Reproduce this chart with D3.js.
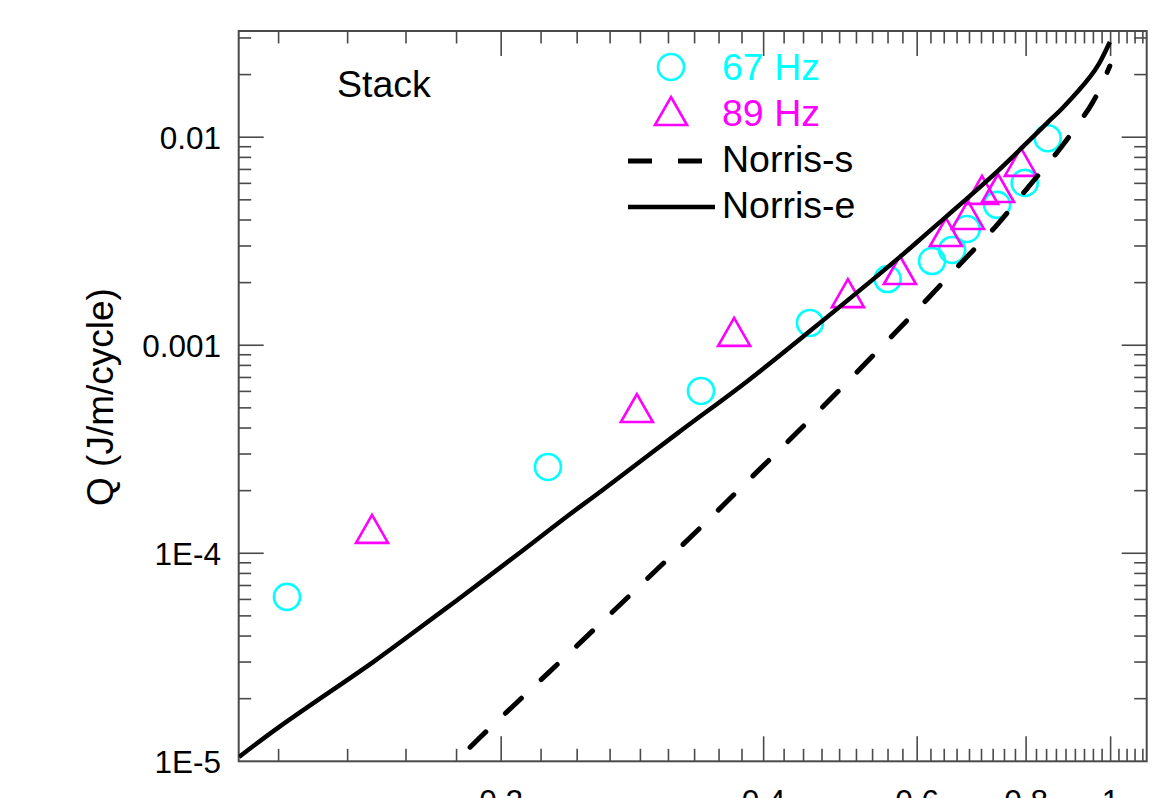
<!DOCTYPE html>
<html>
<head>
<meta charset="utf-8">
<script src="https://cdn.jsdelivr.net/npm/d3@7"></script>
<style>
  html, body { margin: 0; padding: 0; background: #fff; overflow: hidden; }
  svg { display: block; font-family: "Liberation Sans", Arial, sans-serif; }
</style>
</head>
<body>
<div id="chart"></div>
<script>
// measured data (normalised current F = Im/Ic vs loss per cycle)
const f67 = [0.1136, 0.2263, 0.339, 0.452, 0.555, 0.624, 0.658, 0.684, 0.741, 0.797, 0.847]
const q67 = [6.17e-5, 2.60e-4, 6.03e-4, 1.28e-3, 2.08e-3, 2.54e-3, 2.87e-3, 3.62e-3, 4.73e-3, 6.03e-3, 9.89e-3]

const f89 = [0.1422, 0.2862, 0.370, 0.4997, 0.5733, 0.6474, 0.686, 0.712, 0.7428, 0.789]
const q89 = [1.31e-4, 4.99e-4, 1.16e-3, 1.78e-3, 2.30e-3, 3.50e-3, 4.23e-3, 5.58e-3, 5.70e-3, 7.61e-3]

// Norris elliptical (solid) and strip (dashed) curves
const normEF = [0.1001, 0.1112, 0.1426, 0.1543, 0.1775, 0.2097, 0.2373, 0.2617, 0.3182, 0.3828, 0.452, 0.5733, 0.6157, 0.733, 0.808, 0.8453, 0.882, 0.947, 0.97, 0.998]
const normEQ = [1.05e-5, 1.46e-5, 3.0e-5, 3.82e-5, 5.9e-5, 1.0e-4, 1.49e-4, 2.02e-4, 3.76e-4, 6.7e-4, 1.17e-3, 2.66e-3, 3.45e-3, 6.55e-3, 9.7e-3, 1.17e-2, 1.39e-2, 1.95e-2, 2.26e-2, 2.87e-2]

const normSF = [0.1775, 0.1887, 0.2373, 0.3354, 0.3858, 0.4641, 0.5629, 0.6157, 0.6717, 0.741, 0.8017, 0.8748, 0.947, 0.97, 0.998]
const normSQ = [1.0e-5, 1.29e-5, 3.2e-5, 1.28e-4, 2.28e-4, 4.9e-4, 1.12e-3, 1.66e-3, 2.45e-3, 3.79e-3, 5.65e-3, 8.8e-3, 1.40e-2, 1.68e-2, 2.2e-2]

const xMajor = [0.2, 0.4, 0.6, 0.8, 1]
const xMajorLabels = ['0.2', '0.4', '0.6', '0.8', '1']
const yMajor = [1e-5, 1e-4, 1e-3, 1e-2]
const yMajorLabels = ['1E-5', '1E-4', '0.001', '0.01']

const legendItems = ['67 Hz', '89 Hz', 'Norris-s', 'Norris-e']
const annotation = 'Stack'
const yTitle = 'Q (J/m/cycle)'

const W = 1173, H = 798
const plot = { left: 238.7, right: 1146.7, top: 31, bottom: 761.3 }
const axisColor = '#4a4a4a'
const cyan = '#00ffff', magenta = '#ff00ff'

const x = d3.scaleLog().domain([0.1, 1.1]).range([plot.left, plot.right])
const y = d3.scaleLog().domain([1e-5, 0.0324]).range([plot.bottom, plot.top])

const svg = d3.select('#chart').append('svg')
  .attr('width', W).attr('height', H)

svg.append('defs').append('clipPath').attr('id', 'plot-clip')
  .append('rect')
  .attr('x', plot.left).attr('y', plot.top)
  .attr('width', plot.right - plot.left).attr('height', plot.bottom - plot.top)

// minor ticks: x every 0.2/9, y at 2..9 per decade
const xMinor = d3.range(5, 50).filter(k => k % 9 !== 0).map(k => k * 0.2 / 9)
  .filter(v => v > 0.1 && v < 1.1)
const yMinor = []
yMajor.forEach(d => { for (let m = 2; m <= 9; m++) { const v = d * m; if (v < 0.0324) yMinor.push(v) } })

const MAJ = 25, MIN = 12.5
const ticks = svg.append('g').attr('stroke', axisColor).attr('stroke-width', 1.6)

function xTicks (vals, len) {
  ticks.selectAll(null).data(vals).join('line')
    .attr('x1', d => x(d)).attr('x2', d => x(d))
    .attr('y1', plot.bottom).attr('y2', plot.bottom - len)
  ticks.selectAll(null).data(vals).join('line')
    .attr('x1', d => x(d)).attr('x2', d => x(d))
    .attr('y1', plot.top).attr('y2', plot.top + len)
}
function yTicks (vals, len) {
  ticks.selectAll(null).data(vals).join('line')
    .attr('y1', d => y(d)).attr('y2', d => y(d))
    .attr('x1', plot.left).attr('x2', plot.left + len)
  ticks.selectAll(null).data(vals).join('line')
    .attr('y1', d => y(d)).attr('y2', d => y(d))
    .attr('x1', plot.right).attr('x2', plot.right - len)
}
xTicks(xMinor, MIN)
xTicks(xMajor, MAJ)
yTicks(yMinor, MIN)
yTicks(yMajor.filter(d => d > 1e-5), MAJ)

svg.append('rect')
  .attr('x', plot.left).attr('y', plot.top)
  .attr('width', plot.right - plot.left).attr('height', plot.bottom - plot.top)
  .attr('fill', 'none').attr('stroke', axisColor).attr('stroke-width', 2)

// tick labels
svg.append('g').selectAll('text').data(yMajor).join('text')
  .attr('x', 221).attr('y', d => y(d)).attr('dy', '0.36em')
  .attr('text-anchor', 'end').attr('font-size', 31.5).attr('fill', '#000')
  .text((d, i) => yMajorLabels[i])

svg.append('g').selectAll('text').data(xMajor).join('text')
  .attr('x', d => x(d)).attr('y', 812)
  .attr('text-anchor', 'middle').attr('font-size', 31.5).attr('fill', '#000')
  .text((d, i) => xMajorLabels[i])

svg.append('text')
  .attr('transform', `translate(113,397) rotate(-90)`)
  .attr('text-anchor', 'middle').attr('font-size', 37).attr('fill', '#000')
  .text(yTitle)

svg.append('text')
  .attr('x', 337).attr('y', 97).attr('font-size', 37.5).attr('fill', '#000')
  .text(annotation)

// markers
const triPath = (cx, cy) => {
  const p = d3.path()
  p.moveTo(cx, cy - 14); p.lineTo(cx + 16, cy + 14); p.lineTo(cx - 16, cy + 14); p.closePath()
  return p.toString()
}

const marks = svg.append('g').attr('clip-path', 'url(#plot-clip)')
marks.selectAll('circle').data(f67.map((f, i) => [f, q67[i]])).join('circle')
  .attr('cx', d => x(d[0])).attr('cy', d => y(d[1])).attr('r', 13)
  .attr('fill', 'none').attr('stroke', cyan).attr('stroke-width', 2.6)

marks.selectAll('path').data(f89.map((f, i) => [f, q89[i]])).join('path')
  .attr('d', d => triPath(x(d[0]), y(d[1])))
  .attr('fill', 'none').attr('stroke', magenta).attr('stroke-width', 2.6)

// curves
const line = d3.line().x(d => x(d[0])).y(d => y(d[1])).curve(d3.curveCatmullRom.alpha(0.5))
const curves = svg.append('g').attr('clip-path', 'url(#plot-clip)')
const sData = normSF.map((f, i) => [f, normSQ[i]])
curves.append('path').datum(sData).attr('d', line)
  .attr('fill', 'none').attr('stroke', '#000').attr('stroke-width', 1.2)
  .attr('stroke-dasharray', '0 37 1.5 10.5')
curves.append('path').datum(sData).attr('d', line)
  .attr('fill', 'none').attr('stroke', '#000').attr('stroke-width', 5)
  .attr('stroke-linecap', 'round')
  .attr('stroke-dasharray', '22 27').attr('stroke-dashoffset', -20)
curves.append('path').datum(normEF.map((f, i) => [f, normEQ[i]])).attr('d', line)
  .attr('fill', 'none').attr('stroke', '#000').attr('stroke-width', 4.5)
  .attr('stroke-linejoin', 'round')

// legend
const lg = svg.append('g')
lg.append('circle').attr('cx', 671).attr('cy', 67).attr('r', 13)
  .attr('fill', 'none').attr('stroke', cyan).attr('stroke-width', 2.6)
lg.append('path').attr('d', triPath(671, 111))
  .attr('fill', 'none').attr('stroke', magenta).attr('stroke-width', 2.6)
lg.append('line').attr('x1', 628).attr('x2', 712).attr('y1', 161).attr('y2', 161)
  .attr('stroke', '#000').attr('stroke-width', 5).attr('stroke-dasharray', '24 26')
lg.append('line').attr('x1', 628).attr('x2', 715).attr('y1', 207).attr('y2', 207)
  .attr('stroke', '#000').attr('stroke-width', 4.5)
const legendColors = [cyan, magenta, '#000', '#000']
const legendY = [80, 126, 172, 218]
lg.selectAll('text').data(legendItems).join('text')
  .attr('x', 722).attr('y', (d, i) => legendY[i])
  .attr('font-size', 37.5).attr('fill', (d, i) => legendColors[i])
  .text(d => d)
</script>
</body>
</html>
